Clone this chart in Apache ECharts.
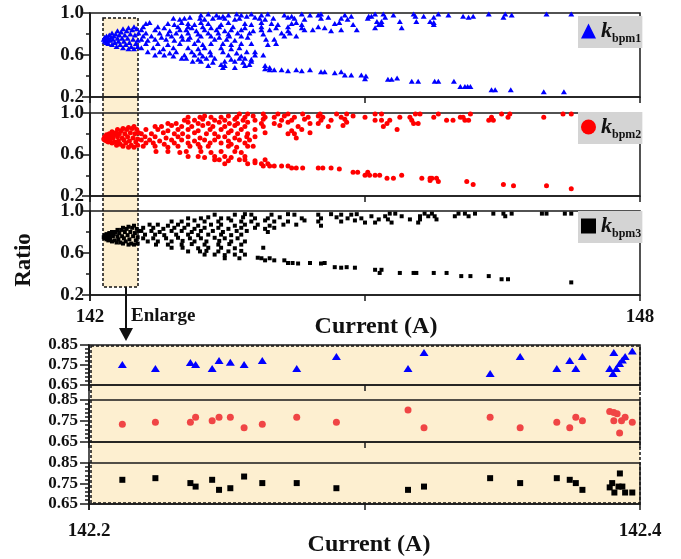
<!DOCTYPE html>
<html><head><meta charset="utf-8">
<script src="https://cdn.jsdelivr.net/npm/echarts@6/dist/echarts.min.js"></script>
<style>html,body{margin:0;padding:0;background:#fff}#c{width:681px;height:559px}</style>
</head><body><div id="c"></div>
<script>
// ---------- DATA ----------
const topXLabels = [142, 148];
const zoomXLabels = [142.2, 142.4];
const legendSubs = ['bpm1', 'bpm2', 'bpm3'];

const kbpm1Top = [
[142.15,0.75],[142.16,0.73],[142.16,0.77],[142.17,0.75],[142.18,0.72],[142.18,0.78],[142.19,0.74],[142.20,0.76],[142.20,0.71],[142.21,0.79],[142.22,0.74],[142.23,0.77],[142.24,0.70],[142.24,0.81],[142.25,0.75],[142.26,0.78],[142.27,0.72],[142.28,0.80],[142.29,0.68],[142.30,0.76],[142.30,0.83],[142.31,0.73],[142.32,0.79],[142.33,0.70],[142.34,0.82],[142.35,0.76],[142.36,0.67],[142.36,0.85],[142.37,0.73],[142.38,0.79],[142.39,0.70],[142.40,0.83],[142.41,0.76],[142.42,0.66],[142.42,0.86],[142.43,0.72],[142.44,0.80],[142.45,0.68],[142.46,0.84],[142.47,0.75],[142.48,0.87],[142.48,0.66],[142.49,0.79],[142.50,0.71],[142.51,0.85],[142.52,0.74],[142.52,0.68],[142.53,0.81],
[143.21,0.98],[143.29,0.99],[143.38,0.98],[143.45,0.97],[143.51,0.98],[143.60,0.99],[143.65,0.98],[143.71,0.97],[143.76,0.99],[143.87,0.98],[143.94,0.99],[144.12,0.98],[144.20,0.97],[144.31,0.99],[144.40,0.98],[144.49,0.98],[144.52,0.99],[144.78,0.98],[144.85,0.97],
[142.91,0.95],[142.98,0.94],[143.03,0.95],[143.09,0.96],[143.20,0.95],[143.25,0.94],[143.34,0.95],[143.41,0.96],[143.47,0.95],[143.58,0.94],[143.63,0.95],[143.80,0.96],[143.85,0.95],[143.91,0.94],[144.00,0.95],[144.16,0.96],[144.23,0.95],[144.34,0.94],[144.52,0.95],[144.60,0.96],[144.74,0.95],[144.81,0.94],[145.03,0.95],
[142.61,0.90],[142.65,0.91],[142.85,0.90],[142.92,0.89],[143.00,0.91],[143.07,0.90],[143.14,0.89],[143.21,0.91],[143.29,0.90],[143.43,0.89],[143.51,0.91],[143.69,0.90],[143.76,0.89],[143.87,0.91],[143.98,0.90],[144.05,0.89],[144.20,0.90],[144.25,0.91],[144.31,0.89],[144.67,0.90],[144.72,0.91],[144.87,0.89],
[142.58,0.87],[142.74,0.87],[142.81,0.86],[142.96,0.87],[143.07,0.87],[143.11,0.86],[143.23,0.87],[143.32,0.86],[143.41,0.87],[143.56,0.87],[143.69,0.86],[143.87,0.87],[144.03,0.86],[144.16,0.87],[144.31,0.86],[144.49,0.87],[144.56,0.86],
[142.56,0.84],[142.71,0.84],[142.87,0.83],[142.98,0.84],[143.05,0.84],[143.16,0.83],[143.25,0.84],[143.38,0.84],[143.47,0.83],[143.54,0.84],[143.65,0.84],[143.78,0.83],[143.87,0.84],[143.96,0.84],[144.16,0.83],[144.34,0.84],[144.43,0.84],[144.63,0.83],[144.74,0.84],[144.91,0.84],
[142.61,0.81],[142.76,0.81],[142.85,0.80],[142.94,0.81],[143.07,0.81],[143.18,0.80],[143.29,0.81],[143.40,0.81],[143.51,0.80],[143.61,0.81],[143.74,0.81],[143.89,0.80],[144.09,0.81],[144.18,0.81],
[142.58,0.78],[142.67,0.78],[142.78,0.77],[142.89,0.78],[143.00,0.78],[143.09,0.77],[143.21,0.78],[143.32,0.78],[143.41,0.77],[143.52,0.78],[143.65,0.78],[143.72,0.77],[144.12,0.78],[144.25,0.78],
[142.56,0.75],[142.63,0.74],[142.71,0.75],[142.83,0.75],[142.92,0.74],[143.01,0.75],[143.07,0.75],[143.18,0.74],[143.36,0.75],[143.49,0.75],[143.58,0.74],[143.92,0.75],[144.01,0.75],
[142.61,0.71],[142.74,0.71],[142.85,0.70],[142.98,0.71],[143.14,0.71],[143.23,0.70],[143.32,0.71],[143.45,0.71],[143.54,0.70],[143.65,0.71],[143.76,0.71],[143.94,0.70],[144.03,0.71],
[142.56,0.67],[142.69,0.67],[142.80,0.66],[142.91,0.67],[143.07,0.67],[143.18,0.66],[143.25,0.67],[143.43,0.67],[143.54,0.66],[143.63,0.67],
[142.63,0.63],[142.76,0.63],[142.87,0.62],[142.94,0.63],[143.11,0.63],[143.20,0.62],[143.31,0.63],[143.45,0.63],[143.60,0.62],[143.71,0.63],[143.80,0.63],
[142.71,0.60],[142.81,0.60],[142.91,0.59],[143.03,0.60],[143.14,0.60],[143.23,0.59],[143.32,0.60],[143.51,0.60],[143.65,0.59],[143.80,0.60],[143.89,0.60],
[143.00,0.57],[143.05,0.57],[143.18,0.56],[143.27,0.57],[143.36,0.57],[143.54,0.56],[143.63,0.57],[143.69,0.57],[143.76,0.56],
[143.12,0.54],[143.21,0.54],[143.34,0.53],[143.47,0.54],[143.58,0.54],[143.67,0.53],[143.76,0.54],
[143.29,0.50],[143.43,0.51],[143.47,0.50],[143.69,0.50],[143.74,0.51],[143.91,0.50],
[143.45,0.48],[143.58,0.48],[143.91,0.47],[143.96,0.48],
[143.96,0.46],[144.01,0.46],[144.09,0.46],[144.16,0.45],[144.25,0.46],[144.31,0.45],[144.40,0.46],
[144.52,0.44],[144.56,0.44],[144.67,0.43],[144.74,0.44],
[144.78,0.41],[144.85,0.41],[144.96,0.41],[145.01,0.40],
[145.11,0.99],[145.20,0.99],[145.31,0.98],[145.53,0.99],[145.80,0.99],[145.91,0.98],[146.35,0.99],[146.53,0.99],[146.60,0.98],[146.98,0.99],[147.25,0.99],
[145.04,0.97],[145.07,0.97],[145.22,0.96],[145.55,0.97],[145.64,0.97],[145.75,0.96],[146.07,0.97],[146.13,0.96],[146.18,0.97],[146.51,0.96],
[145.13,0.92],[145.18,0.92],[145.38,0.92],[145.56,0.92],[145.71,0.92],[145.75,0.91],
[145.15,0.89],[145.18,0.89],[145.75,0.89],[145.11,0.86],[145.40,0.86],
[145.00,0.375],[145.25,0.37],[145.29,0.37],[145.35,0.38],
[145.51,0.35],[145.58,0.35],[145.76,0.35],[145.80,0.35],[145.97,0.35],
[146.04,0.30],[146.09,0.30],[146.12,0.30],[146.15,0.30],
[146.38,0.27],[146.42,0.27],[146.59,0.27],[146.95,0.25],[147.17,0.25]
];

const kbpm2Top = [
[142.15,0.75],[142.16,0.74],[142.16,0.77],[142.17,0.76],[142.18,0.73],[142.18,0.79],[142.19,0.75],[142.20,0.77],[142.20,0.72],[142.21,0.80],[142.22,0.74],[142.23,0.78],[142.24,0.71],[142.24,0.82],[142.25,0.76],[142.26,0.79],[142.27,0.72],[142.28,0.81],[142.29,0.69],[142.30,0.77],[142.30,0.84],[142.31,0.73],[142.32,0.80],[142.33,0.70],[142.34,0.83],[142.35,0.76],[142.36,0.68],[142.36,0.85],[142.37,0.74],[142.38,0.80],[142.39,0.71],[142.40,0.84],[142.41,0.77],[142.42,0.67],[142.42,0.86],[142.43,0.73],[142.44,0.81],[142.45,0.69],[142.46,0.85],[142.47,0.76],[142.48,0.87],[142.48,0.67],[142.49,0.80],[142.50,0.72],[142.51,0.84],[142.52,0.75],[142.52,0.69],[142.53,0.81],
[143.63,0.99],[143.72,0.99],[143.89,0.99],[144.05,0.99],[144.16,0.99],[144.32,0.99],[144.51,0.99],[144.69,0.99],[144.80,0.99],
[143.07,0.96],[143.20,0.96],[143.25,0.97],[143.32,0.96],[143.43,0.96],[143.51,0.97],[143.60,0.96],[143.69,0.96],[143.78,0.97],[143.91,0.96],[144.01,0.96],[144.12,0.97],[144.23,0.96],[144.38,0.96],[144.49,0.97],[144.54,0.96],[144.74,0.96],[144.87,0.97],
[143.03,0.93],[143.14,0.93],[143.23,0.94],[143.36,0.93],[143.47,0.93],[143.58,0.94],[143.67,0.93],[143.80,0.93],[143.89,0.94],[144.09,0.93],[144.20,0.93],[144.34,0.94],[144.52,0.93],[144.63,0.93],[144.78,0.94],
[142.85,0.90],[142.94,0.90],[143.07,0.91],[143.18,0.90],[143.29,0.90],[143.41,0.91],[143.52,0.90],[143.61,0.90],[143.72,0.91],[143.87,0.90],[144.01,0.90],[144.16,0.91],[144.40,0.90],[144.49,0.90],[144.80,0.91],
[142.71,0.87],[142.78,0.87],[142.89,0.88],[143.00,0.87],[143.11,0.87],[143.23,0.88],[143.34,0.87],[143.47,0.87],[143.58,0.88],[143.69,0.87],[143.89,0.87],[144.07,0.88],[144.27,0.87],[144.60,0.87],[144.76,0.88],
[142.61,0.84],[142.74,0.84],[142.85,0.83],[142.96,0.84],[143.07,0.84],[143.18,0.83],[143.31,0.84],[143.43,0.84],[143.54,0.83],[143.65,0.84],[143.80,0.84],[144.20,0.83],[144.31,0.84],
[142.56,0.80],[142.67,0.80],[142.80,0.81],[142.92,0.80],[143.01,0.80],[143.14,0.81],[143.27,0.80],[143.36,0.80],[143.51,0.81],[143.61,0.80],[143.72,0.80],[143.91,0.81],[144.16,0.80],[144.23,0.80],[144.40,0.81],
[142.60,0.77],[142.71,0.77],[142.83,0.76],[142.96,0.77],[143.07,0.77],[143.20,0.76],[143.40,0.77],[143.47,0.77],[143.58,0.76],[143.71,0.77],[143.80,0.77],[144.25,0.76],
[142.56,0.74],[142.65,0.74],[142.76,0.73],[142.89,0.74],[143.00,0.74],[143.14,0.73],[143.25,0.74],[143.36,0.74],[143.51,0.73],[143.63,0.74],[143.74,0.74],
[142.61,0.71],[142.69,0.71],[142.81,0.70],[142.92,0.71],[143.07,0.71],[143.18,0.70],[143.31,0.71],[143.43,0.71],[143.54,0.70],[143.69,0.71],
[142.58,0.68],[142.71,0.68],[142.85,0.67],[142.96,0.68],[143.09,0.68],[143.20,0.67],[143.29,0.68],[143.51,0.68],[143.60,0.67],[143.72,0.68],[143.78,0.68],
[142.72,0.63],[142.85,0.63],[142.98,0.62],[143.05,0.63],[143.21,0.63],[143.32,0.62],[143.43,0.63],[143.58,0.63],[143.65,0.62],
[143.07,0.58],[143.18,0.58],[143.25,0.57],[143.36,0.58],[143.47,0.58],[143.54,0.57],[143.69,0.58],
[143.36,0.55],[143.41,0.55],[143.51,0.54],[143.63,0.55],[143.69,0.55],[143.80,0.54],[143.91,0.55],
[143.47,0.51],[143.72,0.51],[143.80,0.52],[143.87,0.51],[143.94,0.51],
[143.89,0.49],[143.96,0.49],[144.01,0.49],[144.09,0.49],[144.16,0.49],
[144.20,0.47],[144.25,0.47],[144.32,0.47],[144.49,0.47],[144.54,0.47],[144.63,0.47],[144.72,0.46],
[144.87,0.43],[144.92,0.43],[145.03,0.43],
[145.11,0.99],[145.18,0.99],[145.55,0.99],[145.60,0.99],[145.80,0.99],[146.15,0.99],[146.49,0.99],[146.58,0.99],[147.16,0.99],[147.25,0.99],
[145.00,0.96],[145.38,0.96],[145.49,0.96],[145.75,0.96],[146.04,0.96],[146.07,0.96],[146.38,0.96],[146.56,0.96],[146.95,0.96],
[145.11,0.93],[145.18,0.93],[145.27,0.93],[145.51,0.93],[145.89,0.93],[145.96,0.93],[146.09,0.93],[146.13,0.93],[146.35,0.93],[146.40,0.93],
[145.24,0.90],[145.53,0.90],[145.58,0.90],[145.20,0.87],[145.35,0.84],
[145.00,0.40],[145.05,0.40],[145.11,0.40],[145.16,0.40],[145.40,0.40],
[145.24,0.37],[145.31,0.37],[145.62,0.37],[145.71,0.37],[145.73,0.37],[145.78,0.37],
[145.71,0.35],[145.80,0.34],[146.11,0.34],[146.18,0.31],[146.51,0.31],[146.62,0.30],[146.98,0.30],[147.25,0.27]
];

const kbpm3Top = [
[142.15,0.75],[142.16,0.74],[142.16,0.77],[142.17,0.76],[142.18,0.73],[142.18,0.78],[142.19,0.75],[142.20,0.77],[142.20,0.72],[142.21,0.79],[142.22,0.74],[142.23,0.77],[142.24,0.71],[142.24,0.80],[142.25,0.76],[142.26,0.78],[142.27,0.72],[142.28,0.80],[142.29,0.70],[142.30,0.76],[142.30,0.82],[142.31,0.73],[142.32,0.79],[142.33,0.70],[142.34,0.82],[142.35,0.76],[142.36,0.69],[142.36,0.84],[142.37,0.74],[142.38,0.80],[142.39,0.71],[142.40,0.83],[142.41,0.77],[142.42,0.68],[142.42,0.85],[142.43,0.73],[142.44,0.80],[142.45,0.69],[142.46,0.84],[142.47,0.76],[142.48,0.86],[142.48,0.68],[142.49,0.79],[142.50,0.72],[142.51,0.83],[142.52,0.75],[142.52,0.69],[142.53,0.81],
[143.36,0.965],[143.58,0.965],[143.69,0.97],[143.76,0.965],[143.98,0.965],[144.16,0.97],[144.23,0.965],[144.49,0.965],[144.63,0.97],[144.74,0.965],[144.85,0.965],[144.91,0.97],
[143.07,0.93],[143.21,0.93],[143.29,0.94],[143.43,0.93],[143.51,0.93],[143.67,0.94],[143.80,0.93],[143.94,0.93],[144.07,0.94],[144.31,0.93],[144.52,0.93],[144.69,0.94],[144.81,0.93],[144.96,0.93],
[142.89,0.90],[143.00,0.90],[143.14,0.91],[143.25,0.90],[143.40,0.90],[143.54,0.91],[143.65,0.90],[143.76,0.90],[143.91,0.91],[144.01,0.90],[144.16,0.90],[144.34,0.91],[144.49,0.90],[144.74,0.90],[144.89,0.91],
[142.65,0.87],[142.74,0.87],[142.85,0.86],[142.96,0.87],[143.07,0.87],[143.18,0.86],[143.32,0.87],[143.43,0.87],[143.58,0.86],[143.69,0.87],[143.83,0.87],[143.96,0.86],[144.11,0.87],[144.25,0.87],[144.52,0.86],
[142.58,0.84],[142.69,0.84],[142.80,0.83],[142.92,0.84],[143.03,0.84],[143.14,0.83],[143.25,0.84],[143.40,0.84],[143.51,0.83],[143.65,0.84],[143.80,0.84],[143.91,0.83],[144.01,0.84],
[142.56,0.81],[142.67,0.81],[142.76,0.80],[142.89,0.81],[143.00,0.81],[143.11,0.80],[143.21,0.81],[143.34,0.81],[143.45,0.80],[143.60,0.81],[143.71,0.81],[143.94,0.80],
[142.60,0.775],[142.71,0.775],[142.81,0.77],[142.94,0.775],[143.07,0.775],[143.18,0.77],[143.29,0.775],[143.43,0.775],[143.54,0.77],[143.65,0.775],
[142.58,0.74],[142.69,0.74],[142.83,0.74],[142.96,0.745],[143.09,0.74],[143.21,0.74],[143.36,0.745],[143.47,0.74],[143.61,0.74],
[142.63,0.71],[142.74,0.71],[142.89,0.71],[143.01,0.715],[143.14,0.71],[143.27,0.71],[143.41,0.715],[143.54,0.71],[143.69,0.71],
[142.72,0.68],[142.85,0.68],[143.00,0.68],[143.11,0.685],[143.25,0.68],[143.40,0.68],[143.52,0.685],[143.65,0.68],
[142.89,0.65],[143.01,0.65],[143.18,0.645],[143.29,0.65],[143.43,0.65],[143.58,0.645],[143.89,0.65],
[143.07,0.615],[143.20,0.615],[143.27,0.62],[143.40,0.615],[143.51,0.615],[143.65,0.62],
[143.25,0.585],[143.36,0.585],[143.47,0.58],[143.58,0.585],[143.69,0.585],
[143.47,0.55],[143.63,0.55],[143.83,0.555],[143.87,0.55],[143.96,0.55],
[143.91,0.53],[144.01,0.53],[144.12,0.53],
[144.16,0.505],[144.21,0.505],[144.27,0.50],[144.40,0.505],[144.52,0.50],[144.56,0.505],
[144.67,0.465],[144.74,0.46],[144.80,0.465],[144.89,0.46],
[145.27,0.975],[145.33,0.975],[145.65,0.975],[145.73,0.975],[146.02,0.975],[146.09,0.975],[146.20,0.975],[146.40,0.975],[146.51,0.975],[146.60,0.975],[146.93,0.975],[146.98,0.975],[147.18,0.975],[147.25,0.975],
[145.07,0.95],[145.22,0.95],[145.40,0.95],[145.60,0.95],[145.69,0.95],[145.76,0.95],[145.98,0.95],[146.13,0.95],[146.53,0.95],
[145.15,0.92],[145.25,0.92],[145.49,0.92],[145.60,0.92],[145.78,0.92],
[145.00,0.89],[145.11,0.89],[145.29,0.89],[145.58,0.89],
[145.11,0.44],[145.18,0.44],
[145.16,0.41],[145.38,0.41],[145.53,0.41],[145.56,0.41],[145.75,0.41],[145.89,0.41],
[146.05,0.38],[146.15,0.38],[146.35,0.38],[146.49,0.35],[146.56,0.35],[147.25,0.32]
];

const kbpm1Zoom = [
[142.2121,0.753],[142.2241,0.733],[142.2368,0.762],[142.2387,0.753],[142.2447,0.733],[142.2472,0.772],[142.2513,0.764],[142.2563,0.753],[142.2629,0.772],[142.2754,0.733],[142.2898,0.792],
[142.3158,0.733],[142.3216,0.812],[142.3456,0.708],[142.3565,0.792],[142.3698,0.733],[142.3745,0.772],[142.3767,0.733],[142.3791,0.792],
[142.3890,0.733],[142.3902,0.708],[142.3905,0.812],[142.3914,0.733],[142.3926,0.757],[142.3936,0.775],[142.3946,0.792],[142.3972,0.820]
];
const kbpm2Zoom = [
[142.2121,0.734],[142.2241,0.744],[142.2368,0.744],[142.2387,0.768],[142.2447,0.751],[142.2472,0.768],[142.2513,0.768],[142.2563,0.718],[142.2629,0.734],[142.2754,0.768],[142.2898,0.744],
[142.3158,0.802],[142.3216,0.718],[142.3456,0.768],[142.3565,0.718],[142.3698,0.744],[142.3745,0.718],[142.3767,0.768],[142.3791,0.751],
[142.3890,0.795],[142.3905,0.790],[142.3917,0.785],[142.3905,0.751],[142.3926,0.693],[142.3933,0.751],[142.3946,0.768],[142.3972,0.744]
];
const kbpm3Zoom = [
[142.2121,0.768],[142.2241,0.776],[142.2368,0.752],[142.2387,0.735],[142.2447,0.768],[142.2472,0.719],[142.2513,0.727],[142.2563,0.784],[142.2629,0.752],[142.2754,0.752],[142.2898,0.727],
[142.3158,0.719],[142.3216,0.735],[142.3456,0.776],[142.3565,0.752],[142.3698,0.776],[142.3745,0.768],[142.3767,0.752],[142.3791,0.719],
[142.3890,0.731],[142.3899,0.752],[142.3907,0.706],[142.3922,0.735],[142.3927,0.799],[142.3936,0.735],[142.3946,0.706],[142.3972,0.706]
];

// ---------- CHART ----------
const F = "'Liberation Serif','Times New Roman',serif";
const INK = '#1a1a1a';
const WHEAT = '#fdefd0';
const chart = echarts.init(document.getElementById('c'), null, {renderer: 'canvas'});

const gridDefs = [
  {left: 90, top: 13, width: 550, height: 84},
  {left: 90, top: 113, width: 550, height: 83},
  {left: 90, top: 211, width: 550, height: 84},
  {left: 89, top: 345, width: 551, height: 40},
  {left: 89, top: 400, width: 551, height: 42},
  {left: 89, top: 463, width: 551, height: 41}
];
const grid = gridDefs.map(g => Object.assign({show: true, borderColor: INK, borderWidth: 1.5, backgroundColor: 'transparent', containLabel: false}, g));

const lineSt = {color: INK, width: 1.5};
const xAxis = gridDefs.map((g, i) => {
  const isTop = i < 3;
  const labels = isTop ? topXLabels : zoomXLabels;
  return {
    gridIndex: i, type: 'value',
    min: isTop ? 142 : 142.2, max: isTop ? 148 : 142.4, interval: isTop ? 3 : 0.1,
    axisLine: {show: true, onZero: false, lineStyle: lineSt},
    axisTick: {show: true, inside: false, length: 6, lineStyle: lineSt},
    splitLine: {show: false},
    axisLabel: {
      show: i === 2 || i === 5, margin: isTop ? 13 : 18,
      fontFamily: F, fontWeight: 'bold', fontSize: 19, color: '#111',
      formatter: v => labels.some(t => Math.abs(t - v) < 1e-6) ? (isTop ? String(Math.round(v)) : v.toFixed(1)) : ''
    }
  };
});
const yAxis = gridDefs.map((g, i) => {
  const isTop = i < 3;
  return {
    gridIndex: i, type: 'value',
    min: isTop ? 0.2 : 0.65, max: isTop ? 1.0 : 0.85, interval: isTop ? 0.4 : 0.1,
    axisLine: {show: true, onZero: false, lineStyle: lineSt},
    axisTick: {show: true, inside: false, length: isTop ? 8 : 9, lineStyle: lineSt},
    minorTick: {show: true, splitNumber: isTop ? 2 : 5, length: 4, lineStyle: lineSt},
    splitLine: {show: false}, minorSplitLine: {show: false},
    axisLabel: {
      margin: isTop ? 6 : 11, fontFamily: F, fontWeight: 'bold', fontSize: isTop ? 19 : 17, color: '#111',
      formatter: v => isTop ? v.toFixed(1) : v.toFixed(2)
    }
  };
});

const series = [
  {name: 'kbpm1', data: kbpm1Top, idx: 0, symbol: 'triangle', size: [6, 5], color: '#0000ff'},
  {name: 'kbpm2', data: kbpm2Top, idx: 1, symbol: 'circle', size: 5, color: '#ff0000'},
  {name: 'kbpm3', data: kbpm3Top, idx: 2, symbol: 'rect', size: 4, color: '#000000'},
  {name: 'z1', data: kbpm1Zoom, idx: 3, symbol: 'triangle', size: [9, 7], color: '#0000ff'},
  {name: 'z2', data: kbpm2Zoom, idx: 4, symbol: 'circle', size: 7, color: '#f04545'},
  {name: 'z3', data: kbpm3Zoom, idx: 5, symbol: 'rect', size: 6, color: '#000000'}
].map(s => ({
  type: 'scatter', name: s.name, data: s.data, xAxisIndex: s.idx, yAxisIndex: s.idx,
  symbol: s.symbol, symbolSize: s.size, itemStyle: {color: s.color, opacity: 1},
  silent: true, animation: false, z: 3
}));

const legendTops = [16, 112, 211];
const legend = legendSubs.map((sub, i) => ({
  data: ['kbpm' + (i + 1)], left: 578, top: legendTops[i],
  backgroundColor: '#d4d4d4', padding: [4, 1, 3, 3], borderRadius: 0,
  itemWidth: 15, itemHeight: 15, itemGap: 0, selectedMode: false,
  formatter: () => '{k|k}{s|' + sub + '}',
  textStyle: {
    color: '#111',
    rich: {
      k: {fontFamily: F, fontStyle: 'italic', fontWeight: 'bold', fontSize: 22, color: '#111', verticalAlign: 'bottom'},
      s: {fontFamily: F, fontWeight: 'bold', fontSize: 12, color: '#111', verticalAlign: 'bottom', padding: [0, 0, -3, 0]}
    }
  }
}));

const graphic = [
  {type: 'rect', z: -5, shape: {x: 103, y: 18, width: 35, height: 269},
   style: {fill: WHEAT, stroke: '#111', lineWidth: 1.5, lineDash: [3, 2]}},
  {type: 'rect', z: -5, shape: {x: 91, y: 346, width: 549, height: 157},
   style: {fill: WHEAT, stroke: '#111', lineWidth: 1.5, lineDash: [3, 2]}},
  {type: 'line', shape: {x1: 90, y1: 13, x2: 90, y2: 301}, style: {stroke: INK, lineWidth: 1.5}},
  {type: 'line', shape: {x1: 89, y1: 345, x2: 89, y2: 510}, style: {stroke: INK, lineWidth: 1.5}},
  {type: 'line', shape: {x1: 126, y1: 287, x2: 126, y2: 330}, style: {stroke: '#111', lineWidth: 2}},
  {type: 'polygon', shape: {points: [[119, 328], [133, 328], [126, 341]]}, style: {fill: '#111'}},
  {type: 'text', x: 131, y: 316, style: {text: 'Enlarge', font: "bold 19px " + F, fill: '#111', align: 'left', verticalAlign: 'middle'}},
  {type: 'text', x: 24, y: 260, rotation: Math.PI / 2, style: {text: 'Ratio', font: "bold 23px " + F, fill: '#111', align: 'center', verticalAlign: 'middle'}},
  {type: 'text', x: 376, y: 327, style: {text: 'Current (A)', font: "bold 24px " + F, fill: '#111', align: 'center', verticalAlign: 'middle'}},
  {type: 'text', x: 369, y: 545, style: {text: 'Current (A)', font: "bold 24px " + F, fill: '#111', align: 'center', verticalAlign: 'middle'}}
];

chart.setOption({
  animation: false,
  backgroundColor: '#ffffff',
  grid, xAxis, yAxis, series, legend, graphic
});
</script></body></html>
